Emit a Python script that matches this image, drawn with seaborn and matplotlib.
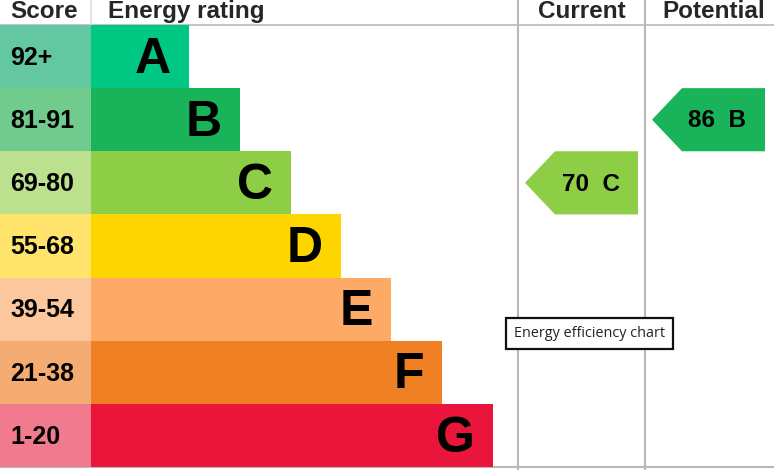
import matplotlib
matplotlib.use("Agg")
import matplotlib.pyplot as plt
from matplotlib.patches import Polygon
import seaborn as sns
import pandas as pd

# bands of the EPC chart, best to worst
ratings = ["A", "B", "C", "D", "E", "F", "G"]
score_ranges = ["92+", "81-91", "69-80", "55-68", "39-54", "21-38", "1-20"]
bar_lengths = [98, 149, 200, 250, 300, 351, 402]
bar_colors = ["#00c781", "#19b459", "#8dce46", "#ffd500", "#fcaa65", "#ef8023", "#e9153b"]
score_colors = ["#63c8a2", "#70cb8c", "#bbe08e", "#ffe36a", "#fdc79d", "#f5ac73", "#f27a8f"]

current_score, current_band = 70, "C"
potential_score, potential_band = 86, "B"

sns.set_theme(style="white")
plt.rcParams['font.family'] = ['Liberation Sans', 'DejaVu Sans']

fig = plt.figure(figsize=(7.74, 4.70), dpi=100)
ax = fig.add_axes([0, 0, 1, 1])

df = pd.DataFrame({"rating": ratings, "length": bar_lengths})
sns.barplot(data=df, x="length", y="rating", hue="rating", palette=bar_colors,
            orient="h", width=1.0, saturation=1, linewidth=0, legend=False, ax=ax)

# score column on the left
score_w = 91
ax.barh(range(len(ratings)), score_w, left=-score_w, height=1.0,
        color=score_colors, linewidth=0)

for i, (r, s, L) in enumerate(zip(ratings, score_ranges, bar_lengths)):
    ax.text(L - 18, i + 0.05, r, ha="right", va="center", fontsize=36,
            fontweight="bold", color="black")
    ax.text(-score_w + 10, i + 0.02, s, ha="left", va="center", fontsize=18,
            fontweight="bold", color="black")

# grid lines
grey = "#b9b9b9"
cur_x, pot_x = 427, 554
ax.axvline(cur_x, color=grey, lw=1.5, zorder=0)
ax.axvline(pot_x, color=grey, lw=1.5, zorder=0)
ax.axhline(-0.5, color=grey, lw=1.2, zorder=0)
ax.axhline(6.5, color=grey, lw=1.5, zorder=0)
ax.plot([0, 0], [-0.9, -0.5], color="#dddddd", lw=1.2, zorder=0)

# headers
hy = -0.61
hkw = dict(va="baseline", fontsize=17.5, fontweight="bold")
ax.text(-score_w + 10, hy, "Score", ha="left", **hkw)
ax.text(17, hy, "Energy rating", ha="left", **hkw)
ax.text(491, hy, "Current", ha="center", **hkw)
ax.text(623, hy, "Potential", ha="center", **hkw)


def arrow(col_x, score, band):
    i = ratings.index(band)
    tip = col_x + 7
    right = tip + 113
    pts = [(tip, i), (tip + 30, i - 0.5), (right, i - 0.5), (right, i + 0.5), (tip + 30, i + 0.5)]
    ax.add_patch(Polygon(pts, closed=True, color=bar_colors[i], lw=0))
    ax.text((tip + right) / 2 + 9, i + 0.02, f"{score}  {band}", ha="center", va="center",
            fontsize=17.5, fontweight="bold", color="black")


arrow(cur_x, current_score, current_band)
arrow(pot_x, potential_score, potential_band)

# tooltip box
ax.text(423, 4.38, "Energy efficiency chart", ha="left", va="center", fontsize=10.4,
        family=["Open Sans", "DejaVu Sans"], color="#222222",
        bbox=dict(boxstyle="square,pad=0.55", facecolor="white", edgecolor="#111111", lw=1.6))

ax.set_xlim(-score_w, 683)
ax.set_ylim(6.548, -0.896)
ax.axis("off")

fig.savefig("out.png", dpi=100)
